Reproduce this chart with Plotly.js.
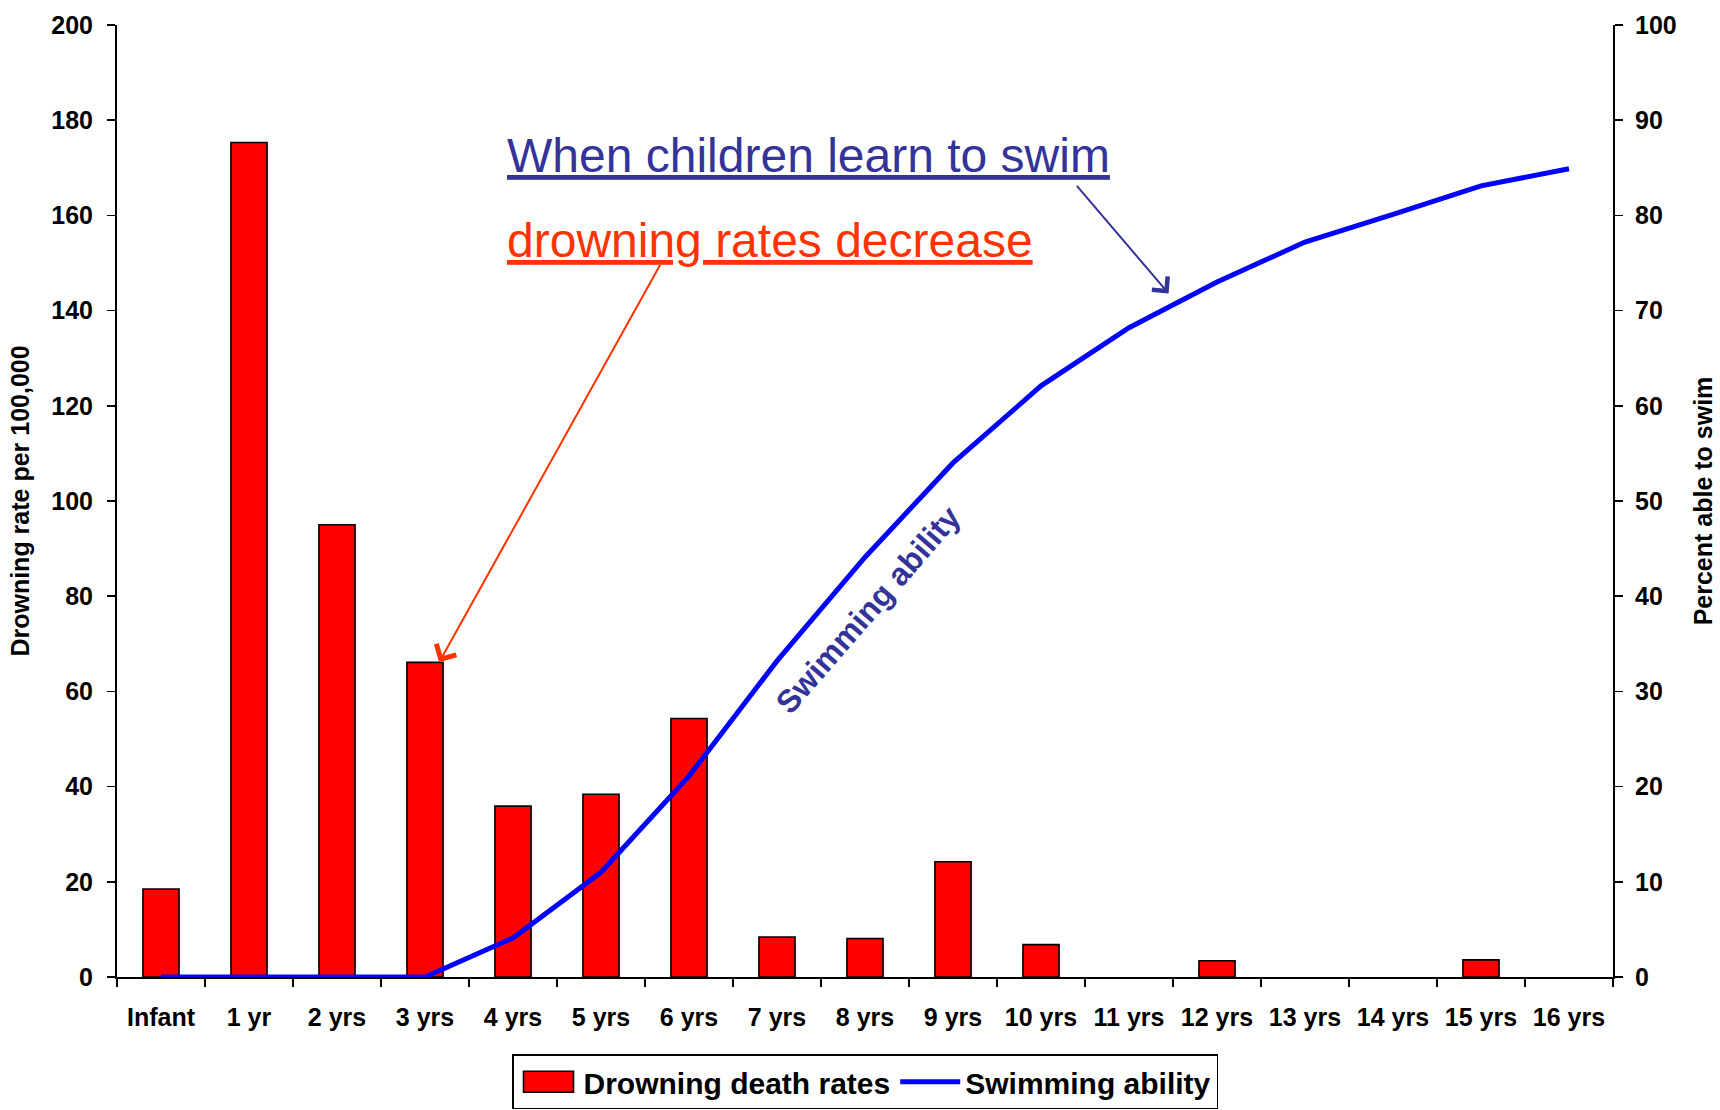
<!DOCTYPE html>
<html>
<head>
<meta charset="utf-8">
<script src="https://cdn.plot.ly/plotly-3.0.1.min.js"></script>
<style>
  html, body { margin: 0; padding: 0; background: #ffffff; }
  #chart { width: 1720px; height: 1110px; }
</style>
</head>
<body>
<div id="chart"></div>
<script>
// ---- data ----
var categories = ['Infant', '1 yr', '2 yrs', '3 yrs', '4 yrs', '5 yrs', '6 yrs', '7 yrs', '8 yrs',
                  '9 yrs', '10 yrs', '11 yrs', '12 yrs', '13 yrs', '14 yrs', '15 yrs', '16 yrs'];
var drowningRates = [18.5, 175.3, 95.0, 66.1, 35.9, 38.4, 54.3, 8.4, 8.1, 24.2, 6.8, null, 3.4, null, null, 3.6, null];
var swimmingAbility = [0, 0, 0, 0, 4.1, 11.0, 21.1, 33.2, 44.1, 54.0, 62.1, 68.2, 73.0, 77.2, 80.1, 83.1, 84.9];

var seriesNames = ['Drowning death rates', 'Swimming ability'];
var leftAxisTitle = 'Drowning rate per 100,000';
var rightAxisTitle = 'Percent able to swim';
var note1 = 'When children learn to swim';
var note2 = 'drowning rates decrease';
var lineLabel = 'Swimming ability';

var FONT = 'Liberation Sans, Arial, Helvetica, sans-serif';

var traces = [
  {
    type: 'bar',
    name: seriesNames[0],
    x: categories,
    y: drowningRates,
    xaxis: 'x',
    yaxis: 'y',
    marker: { color: '#FF0000', line: { color: '#000000', width: 1.6 } },
    hoverinfo: 'skip'
  },
  {
    type: 'scatter',
    mode: 'lines',
    name: seriesNames[1],
    x: categories,
    y: swimmingAbility,
    xaxis: 'x',
    yaxis: 'y2',
    line: { color: '#0000FF', width: 5 },
    hoverinfo: 'skip'
  }
];

var tickFont = { family: FONT, size: 25, color: '#000000', weight: 'bold' };

var layout = {
  width: 1720,
  height: 1110,
  paper_bgcolor: '#ffffff',
  plot_bgcolor: '#ffffff',
  margin: { l: 117, r: 107, t: 25, b: 133, pad: 0, autoexpand: false },
  showlegend: true,
  bargap: 0.59,
  font: { family: FONT, color: '#000000' },
  xaxis: {
    type: 'category',
    categoryorder: 'array',
    categoryarray: categories,
    range: [-0.5, 16.5],
    tickson: 'boundaries',
    ticks: 'outside',
    ticklen: 8,
    tickwidth: 1.5,
    tickcolor: '#000000',
    showline: true,
    linecolor: '#000000',
    linewidth: 2,
    showgrid: false,
    zeroline: false,
    tickfont: tickFont,
    ticklabelstandoff: 17,
    automargin: false,
    fixedrange: true
  },
  xaxis3: {
    type: 'linear',
    overlaying: 'x',
    anchor: 'y',
    range: [-0.5, 16.5],
    tickmode: 'linear',
    tick0: -0.5,
    dtick: 1,
    ticks: 'inside',
    ticklen: 8,
    tickwidth: 1.5,
    tickcolor: '#000000',
    showticklabels: false,
    showgrid: false,
    zeroline: false,
    showline: false
  },
  yaxis: {
    range: [0, 200],
    tickmode: 'linear',
    tick0: 0,
    dtick: 20,
    ticks: 'outside',
    ticklen: 8,
    tickwidth: 1.5,
    tickcolor: '#000000',
    showline: true,
    linecolor: '#000000',
    linewidth: 2,
    showgrid: false,
    zeroline: false,
    tickfont: tickFont,
    ticklabelstandoff: 9,
    automargin: false,
    title: { text: leftAxisTitle, font: { family: FONT, size: 25, color: '#000000', weight: 'bold' }, standoff: 15 },
    fixedrange: true
  },
  yaxis3: {
    overlaying: 'y',
    anchor: 'x',
    side: 'left',
    range: [0, 200],
    tickmode: 'linear',
    tick0: 0,
    dtick: 20,
    ticks: 'inside',
    ticklen: 8,
    tickwidth: 1.5,
    tickcolor: '#000000',
    showticklabels: false,
    showgrid: false,
    zeroline: false,
    showline: false
  },
  yaxis2: {
    overlaying: 'y',
    anchor: 'x',
    side: 'right',
    range: [0, 100],
    tickmode: 'linear',
    tick0: 0,
    dtick: 10,
    ticks: 'outside',
    ticklen: 8,
    tickwidth: 1.5,
    tickcolor: '#000000',
    showline: true,
    linecolor: '#000000',
    linewidth: 2,
    showgrid: false,
    zeroline: false,
    tickfont: tickFont,
    ticklabelstandoff: 7,
    automargin: false,
    title: { text: rightAxisTitle, font: { family: FONT, size: 25, color: '#000000', weight: 'bold' }, standoff: 19 },
    fixedrange: true
  },
  yaxis4: {
    overlaying: 'y',
    anchor: 'x',
    side: 'right',
    range: [0, 100],
    tickmode: 'linear',
    tick0: 0,
    dtick: 10,
    ticks: 'inside',
    ticklen: 8,
    tickwidth: 1.5,
    tickcolor: '#000000',
    showticklabels: false,
    showgrid: false,
    zeroline: false,
    showline: false
  },
  legend: {
    orientation: 'h',
    x: 0.5,
    xanchor: 'center',
    y: -0.0812,
    yanchor: 'top',
    bordercolor: '#000000',
    borderwidth: 1.5,
    bgcolor: '#ffffff',
    itemwidth: 60,
    font: { family: FONT, size: 30, color: '#000000', weight: 'bold' }
  },
  annotations: [
    {
      xref: 'paper', yref: 'paper',
      x: 0.2594, y: 0.863,
      xanchor: 'left', yanchor: 'middle',
      text: '<u>' + note1 + '</u>',
      showarrow: false,
      font: { family: FONT, size: 48, color: '#333399' }
    },
    {
      xref: 'paper', yref: 'paper',
      x: 0.2594, y: 0.774,
      xanchor: 'left', yanchor: 'middle',
      text: '<u>' + note2 + '</u>',
      showarrow: false,
      font: { family: FONT, size: 48, color: '#FF3300' }
    },
    {
      xref: 'x', yref: 'y',
      x: 3.16, y: drowningRates[3],
      text: '',
      showarrow: true,
      arrowhead: 4,
      arrowsize: 2.2,
      arrowwidth: 2,
      arrowcolor: '#FF3300',
      standoff: 0,
      ax: 222, ay: -399
    },
    {
      xref: 'x', yref: 'y2',
      x: 11.45, y: 71.8,
      text: '',
      showarrow: true,
      arrowhead: 4,
      arrowsize: 2,
      arrowwidth: 2,
      arrowcolor: '#333399',
      standoff: 0,
      ax: -93, ay: -109
    },
    {
      xref: 'x', yref: 'y2',
      x: 8.03, y: 38.6,
      text: lineLabel,
      showarrow: false,
      textangle: -49,
      font: { family: FONT, size: 32, color: '#333399', weight: 'bold' }
    }
  ]
};

var gd = document.getElementById('chart');

function widenBarSwatch() {
  // widen the bar legend swatch to the wide rectangle used in the reference
  var items = gd.querySelectorAll('g.legend g.traces');
  if (!items.length) return;
  var paths = items[0].querySelectorAll('g.legendpoints path');
  for (var i = 0; i < paths.length; i++) {
    paths[i].setAttribute('d', 'M25,10.5H-25V-10.5H25Z');
  }
}

Plotly.newPlot(gd, traces, layout, { displayModeBar: false, staticPlot: true }).then(function () {
  widenBarSwatch();
  gd.on('plotly_afterplot', widenBarSwatch);
  setTimeout(widenBarSwatch, 0);
  setTimeout(widenBarSwatch, 200);
});
</script>
</body>
</html>
